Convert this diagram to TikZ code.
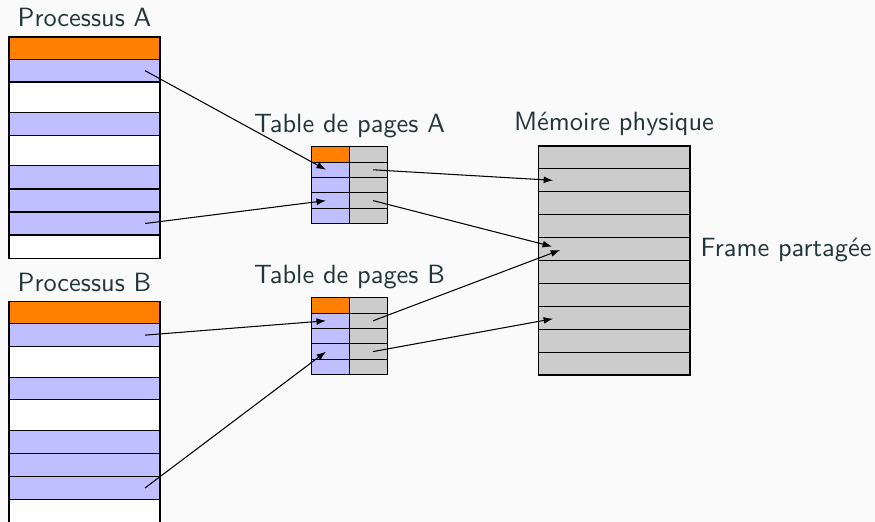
\documentclass[tikz,border=0pt]{standalone}
\usetikzlibrary{calc,arrows.meta}
\definecolor{bg}{HTML}{FAFAFA}
\definecolor{txt}{HTML}{23373B}
\definecolor{orng}{RGB}{255,128,0}
\definecolor{lav}{RGB}{191,191,255}
\definecolor{gry}{RGB}{204,204,204}
\newcommand\pxu{0.3788pt}
\begin{document}
\begin{tikzpicture}[x=0.3788pt,y=-0.3788pt,
  cell/.style={draw=black, line width=0.4pt, inner sep=0pt, outer sep=0pt, anchor=north west},
  lbl/.style={text=txt, font=\sffamily, anchor=base, inner sep=0pt},
  arr/.style={-{Latex[length=3.6pt,width=2.6pt]}, line width=0.4pt, black}]
\fill[bg] (0,0) rectangle (875,522);
\useasboundingbox (0,0) rectangle (875,522);
% Processus A
\foreach \i/\y/\h/\c in {1/37/22.3/orng,2/59.3/22.7/lav,3/82/30.7/white,4/112.7/22.6/lav,5/135.3/30.4/white,6/165.7/23.3/lav,7/189/23/lav,8/212/23/lav,9/235/23.3/white}
  {\node[cell, fill=\c, minimum width=151*\pxu, minimum height=\h*\pxu] (pa\i) at (9,\y) {};}
% Processus B
\foreach \i/\y/\h/\c in {1/37/22.3/orng,2/59.3/22.7/lav,3/82/30.7/white,4/112.7/22.6/lav,5/135.3/30.4/white,6/165.7/23.3/lav,7/189/23/lav,8/212/23/lav,9/235/23.3/white}
  {\node[cell, fill=\c, minimum width=151*\pxu, minimum height=\h*\pxu] (pb\i) at (9,\y+264.5) {};}
% Table A
\foreach \i/\c in {1/orng,2/lav,3/lav,4/lav,5/lav}
  {\node[cell, fill=\c, minimum width=37.6*\pxu, minimum height=15.4*\pxu] (tal\i) at (311.7,146.7+\i*15.4-15.4) {};
   \node[cell, fill=gry, minimum width=38*\pxu, minimum height=15.4*\pxu] (tar\i) at (349.3,146.7+\i*15.4-15.4) {};}
% Table B
\foreach \i/\c in {1/orng,2/lav,3/lav,4/lav,5/lav}
  {\node[cell, fill=\c, minimum width=37.6*\pxu, minimum height=15.4*\pxu] (tbl\i) at (311.7,297.7+\i*15.4-15.4) {};
   \node[cell, fill=gry, minimum width=38*\pxu, minimum height=15.4*\pxu] (tbr\i) at (349.3,297.7+\i*15.4-15.4) {};}
% Memoire
\foreach \i in {1,...,10}
  {\node[cell, fill=gry, minimum width=151.7*\pxu, minimum height=22.9*\pxu] (m\i) at (538.3,146+\i*22.9-22.9) {};}
% Labels
\node[lbl] (lpa) at (84.5,26.7) {Processus A};
\node[lbl] (lpb) at (84.5,291.7) {Processus B};
\node[lbl] (lta) at (349.5,132.3) {Table de pages A};
\node[lbl] (ltb) at (349.5,283.3) {Table de pages B};
\node[lbl] (lm) at (614,130.7) {Mémoire physique};
\node[lbl, anchor=base west] (lf) at (700,256.7) {Frame partagée};
% Arrows
\draw[arr] ($(pa2.east)+(-15,0)$) -- ($(tal2.center)+(-4.5,0)$);
\draw[arr] ($(pa8.east)+(-15,0)$) -- ($(tal4.center)+(-4.5,0)$);
\draw[arr] ($(tar2.center)+(4.7,0)$) -- ($(m2.center)+(-61,0)$);
\draw[arr] ($(tar4.center)+(4.7,0)$) -- ($(m5.center)+(-62,-2.5)$);
\draw[arr] ($(pb2.east)+(-15,0)$) -- ($(tbl2.center)+(-4.5,0)$);
\draw[arr] ($(pb8.east)+(-15,0)$) -- ($(tbl4.center)+(-4.5,0)$);
\draw[arr] ($(tbr2.center)+(4.7,0)$) -- ($(m5.center)+(-54,1)$);
\draw[arr] ($(tbr4.center)+(4.7,0)$) -- ($(m8.center)+(-61,1)$);
\end{tikzpicture}
\end{document}
